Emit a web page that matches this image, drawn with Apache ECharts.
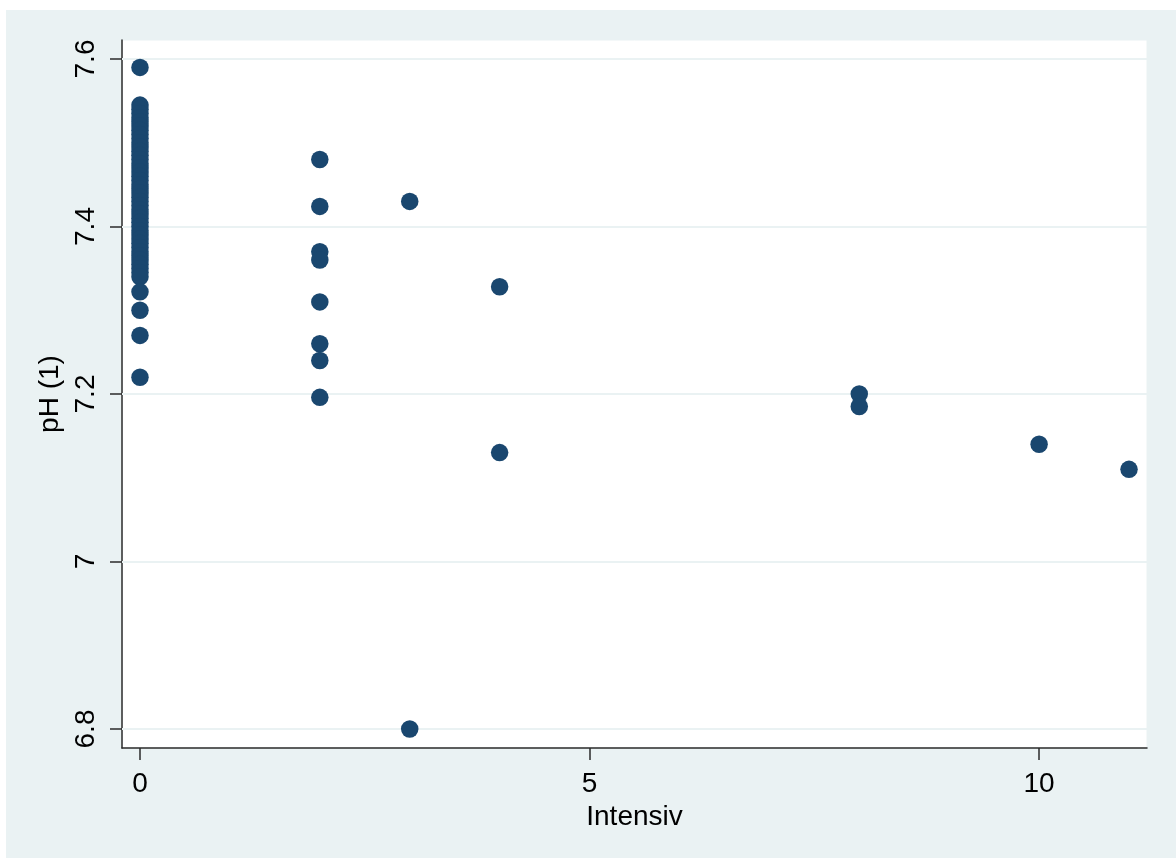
<!DOCTYPE html>
<html>
<head>
<meta charset="utf-8">
<title>pH (1) vs Intensiv</title>
<script src="https://cdn.jsdelivr.net/npm/echarts@6/dist/echarts.min.js"></script>
<style>
  html, body { margin: 0; padding: 0; background: #ffffff; width: 1176px; height: 858px; overflow: hidden; }
  #chart { position: absolute; left: 6px; top: 10px; width: 1170px; height: 848px; }
</style>
</head>
<body>
<div id="chart"></div>
<script>
// Days in intensive care (x) and measured pH (y), one entry per patient
const intensiv = [
  0, 0, 0, 0, 0, 0, 0, 0, 0, 0,
  0, 0, 0, 0, 0, 0, 0, 0, 0, 0,
  0, 0, 0, 0, 0, 0, 0, 0, 0, 0,
  0, 0, 0, 0, 0, 0, 0, 0, 0, 0,
  0, 0, 0, 0, 0, 0, 0,
  2, 2, 2, 2, 2, 2, 2, 2,
  3, 3,
  4, 4,
  8, 8,
  10,
  11
];
const ph = [
  7.59, 7.545, 7.54, 7.535, 7.53, 7.525, 7.52, 7.515, 7.51, 7.505,
  7.50, 7.495, 7.49, 7.485, 7.48, 7.475, 7.47, 7.465, 7.46, 7.455,
  7.45, 7.445, 7.44, 7.435, 7.43, 7.425, 7.42, 7.415, 7.41, 7.405,
  7.40, 7.395, 7.39, 7.385, 7.38, 7.375, 7.37, 7.365, 7.36, 7.355,
  7.35, 7.345, 7.34, 7.322, 7.30, 7.27, 7.22,
  7.48, 7.424, 7.37, 7.36, 7.31, 7.26, 7.24, 7.196,
  7.43, 6.80,
  7.328, 7.13,
  7.20, 7.185,
  7.14,
  7.11
];

const xTicks = [0, 5, 10];
const yTicks = [6.8, 7.0, 7.2, 7.4, 7.6];

const points = intensiv.map((x, i) => [x, ph[i]]);

const FONT = "'Liberation Sans', Arial, sans-serif";
const BG = '#EAF2F3';
const MARK = '#1A476F';
const AXIS = '#2b2b2b';

const chart = echarts.init(document.getElementById('chart'), null, { renderer: 'canvas' });

chart.setOption({
  backgroundColor: BG,
  animation: false,
  grid: {
    left: 116, top: 30, right: 29, bottom: 110,
    show: true, backgroundColor: '#ffffff',
    borderColor: BG, borderWidth: 1
  },
  xAxis: {
    type: 'value',
    min: -0.2, max: 11.2,
    name: 'Intensiv',
    nameLocation: 'middle',
    nameGap: 50,
    nameTextStyle: { fontFamily: FONT, fontSize: 28, color: '#000' },
    axisLine: { show: true, onZero: false, lineStyle: { color: AXIS, width: 1.5 } },
    axisTick: { show: true, customValues: xTicks, length: 12, lineStyle: { color: AXIS, width: 1.5 } },
    axisLabel: { customValues: xTicks, margin: 22, fontFamily: FONT, fontSize: 28, color: '#000' },
    splitLine: { show: false }
  },
  yAxis: {
    type: 'value',
    min: 6.7773, max: 7.6227,
    name: 'pH (1)',
    nameLocation: 'middle',
    nameGap: 54,
    nameRotate: 90,
    nameTextStyle: { fontFamily: FONT, fontSize: 28, color: '#000' },
    axisLine: { show: true, onZero: false, lineStyle: { color: AXIS, width: 1.5 } },
    axisTick: { show: true, customValues: yTicks, length: 12, lineStyle: { color: AXIS, width: 1.5 } },
    axisLabel: {
      customValues: yTicks, rotate: 90, margin: 22,
      fontFamily: FONT, fontSize: 28, color: '#000',
      formatter: v => (Math.round(v * 10) / 10).toString()
    },
    splitLine: { show: false }
  },
  series: [
    {
      // horizontal reference lines at the y tick values, kept beneath the markers
      type: 'line',
      data: [],
      z: 1,
      markLine: {
        silent: true,
        symbol: 'none',
        label: { show: false },
        lineStyle: { color: BG, width: 2, type: 'solid' },
        data: yTicks.map(v => ({ yAxis: v }))
      }
    },
    {
      type: 'scatter',
      z: 5,
      symbol: 'circle',
      symbolSize: 17.5,
      itemStyle: { color: MARK, opacity: 1 },
      data: points
    }
  ]
});
</script>
</body>
</html>
